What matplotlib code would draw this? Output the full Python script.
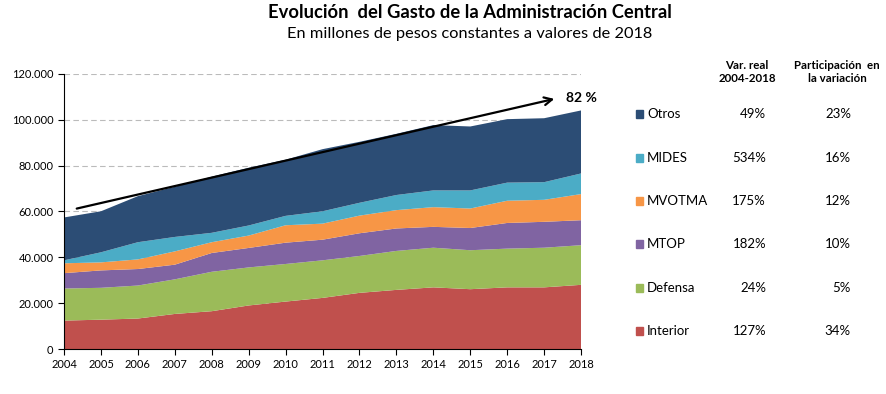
import numpy as np
import matplotlib.pyplot as plt
from matplotlib.ticker import FuncFormatter

plt.rcParams['font.family'] = ['Lato', 'DejaVu Sans']

# datos (miles de millones)
years = list(range(2004, 2019))
interior = [12.4, 12.8, 13.3, 15.3, 16.5, 19.0, 20.7, 22.3, 24.5, 25.8, 26.9, 26.1, 26.9, 26.9, 28.0]
defensa = [14.0, 13.9, 14.4, 15.1, 17.2, 16.6, 16.4, 16.4, 16.1, 17.0, 17.3, 17.0, 16.9, 17.3, 17.3]
mtop = [6.7, 7.6, 7.2, 6.4, 8.2, 8.5, 9.3, 9.0, 9.9, 9.8, 9.1, 9.7, 11.2, 11.3, 10.9]
mvotma = [4.3, 3.5, 4.2, 5.8, 4.7, 5.4, 7.6, 7.0, 7.7, 8.0, 8.6, 8.5, 9.7, 9.6, 11.4]
mides = [1.3, 4.4, 7.5, 6.3, 4.1, 4.4, 4.1, 5.4, 5.6, 6.6, 7.3, 7.9, 7.9, 7.7, 9.0]
otros = [18.7, 17.9, 20.1, 21.9, 24.5, 25.2, 24.5, 27.1, 26.6, 26.7, 28.5, 27.9, 27.7, 27.9, 27.5]

series_names = ['Interior', 'Defensa', 'MTOP', 'MVOTMA', 'MIDES', 'Otros']
colors = ['#C0504D', '#9BBB59', '#8064A2', '#F79646', '#4BACC6', '#2C4D75']
var_real = ['127%', '24%', '182%', '175%', '534%', '49%']
particip = ['34%', '5%', '10%', '12%', '16%', '23%']

fig = plt.figure(figsize=(8.87, 3.94), dpi=100)
ax = fig.add_axes([0.0722, 0.1142, 0.5829, 0.698])

vals = np.array([interior, defensa, mtop, mvotma, mides, otros]) * 1000
ax.stackplot(years, vals, colors=colors, linewidth=0, zorder=2)

ax.set_xlim(2004, 2018)
ax.set_ylim(0, 120000)
ax.set_xticks(years)
ax.set_yticks(np.arange(0, 120001, 20000))
ax.yaxis.set_major_formatter(FuncFormatter(lambda v, p: '0' if v == 0 else f'{int(v):,}'.replace(',', '.')))
ax.tick_params(labelsize=8, length=4, width=0.8, colors='black')
ax.grid(axis='y', color='#BBBBBB', linestyle=(0, (5, 3)), linewidth=0.8, zorder=0)
ax.set_axisbelow(True)
for s in ['top', 'right']:
    ax.spines[s].set_visible(False)

# flecha de crecimiento
ax.annotate('', xy=(2017.35, 109400), xytext=(2004.27, 61000),
            arrowprops=dict(arrowstyle='->', color='black', lw=1.6, mutation_scale=14), zorder=5)
ax.text(2017.6, 109500, '82 %', fontsize=10, fontweight='bold', va='center', ha='left')

# titulos
fig.text(0.53, 1 - 13 / 394, 'Evolución  del Gasto de la Administración Central', fontsize=13.2,
         fontweight='bold', ha='center', va='center')
fig.text(0.53, 1 - 34 / 394, 'En millones de pesos constantes a valores de 2018', fontsize=11.8,
         ha='center', va='center')

# tabla / leyenda
H = 394.0
fig.text(747 / 887, 1 - 72 / H, 'Var. real\n2004-2018', fontsize=8.3, fontweight='bold',
         ha='center', va='center', linespacing=1.3)
fig.text(837 / 887, 1 - 72 / H, 'Participación  en\nla variación', fontsize=8.3, fontweight='bold',
         ha='center', va='center', linespacing=1.3)
row_y = [330.7, 287.7, 244.3, 200.7, 157.7, 114.3]
for name, c, vr, pt, yy in zip(series_names, colors, var_real, particip, row_y):
    fy = 1 - yy / H
    fig.patches.append(plt.Rectangle((636 / 887, fy - 4 / H), 7 / 887, 8 / H,
                                     transform=fig.transFigure, color=c))
    fig.text(647 / 887, fy, name, fontsize=9.5, ha='left', va='center')
    fig.text(766 / 887, fy, vr, fontsize=9.5, ha='right', va='center')
    fig.text(851 / 887, fy, pt, fontsize=9.5, ha='right', va='center')

fig.savefig('out.png', dpi=100)
